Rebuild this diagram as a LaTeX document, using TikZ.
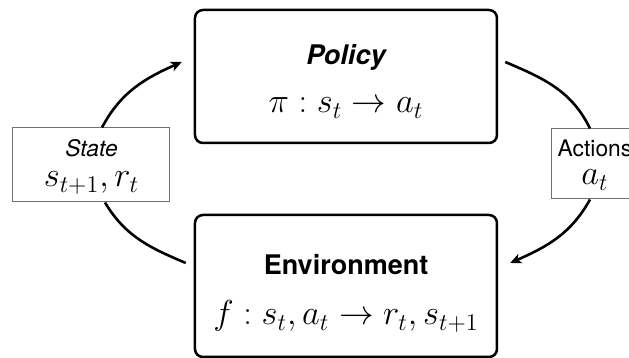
\documentclass[tikz,border=0pt]{standalone}
\usepackage{amsmath}
\usepackage{fontspec}
\newfontfamily\helv{TeX Gyre Heros}
\usetikzlibrary{arrows.meta,calc}
\definecolor{tagedge}{HTML}{707070}
\tikzset{
  agentbox/.style={draw=black, rounded corners=4pt, line width=1.25pt,
    minimum width=151pt, inner sep=0pt},
  tagbox/.style={draw=tagedge, line width=0.5pt, inner sep=0pt},
  boxhead/.style={font=\helv\bfseries\fontsize{13.5}{16}\selectfont, anchor=base, inner sep=0.5pt},
  boxmath/.style={font=\fontsize{17.5}{21}\selectfont, anchor=base, inner sep=0.5pt},
  taghead/.style={font=\helv\fontsize{11.4}{13}\selectfont, anchor=base, inner sep=0.5pt},
  tagmath/.style={font=\fontsize{16.5}{20}\selectfont, anchor=base, inner sep=0.5pt},
  loop/.style={line width=1.3pt, color=black},
  loopin/.style={loop, -{Stealth[length=5.5pt, width=5pt, inset=1.5pt]}},
}

\begin{document}
\begin{tikzpicture}[x=0.5pt,y=0.5pt]
  \useasboundingbox (0,0) rectangle (629,358);
  % the two main blocks
  \node[agentbox, minimum height=66.5pt] (policy) at (346,281.5) {};
  \node[agentbox, minimum height=71pt] (env) at (346,72) {};
  \node[boxhead, font=\helv\bfseries\itshape\fontsize{13.5}{16}\selectfont] (poltitle)
    at ([yshift=5.75pt]policy.center) {Policy};
  \node[boxmath] (polmap) at ([yshift=-18.25pt]policy.center) {$\pi : s_t \rightarrow a_t$};
  \node[boxhead] (envtitle) at ([yshift=5.5pt]env.center) {Environment};
  \node[boxmath, font=\fontsize{16.7}{20}\selectfont] (envmap)
    at ([yshift=-19.5pt]env.center) {$f : s_t, a_t \rightarrow r_t, s_{t+1}$};
  % tags on the loop
  \node[tagbox, minimum width=78.5pt, minimum height=37pt] (state) at (91.5,193) {};
  \node[taghead, font=\helv\itshape\fontsize{11.4}{13}\selectfont] (statetxt)
    at ([yshift=4pt]state.center) {State};
  \node[tagmath] (statemath) at ([yshift=-11pt]state.center) {$s_{t+1}, r_t$};
  \node[tagbox, minimum width=43pt, minimum height=35pt] (actions) at (595,194) {};
  \node[taghead] (actionstxt) at ([yshift=3.5pt]actions.center) {Actions};
  \node[tagmath] (actionsmath) at ([yshift=-10.5pt]actions.center) {$a_t$};
  % loop ends
  \coordinate (polin) at ([shift={(-12,14.5)}]policy.west);
  \coordinate (polout) at ([shift={(7,14.5)}]policy.east);
  \coordinate (envin) at ([shift={(12,23)}]env.east);
  \coordinate (envout) at ([shift={(-8,23)}]env.west);
  \draw[loopin] ([shift={(10.5,0)}]state.north) to[out=62, in=204] (polin);
  \draw[loop] (polout) to[out=-23, in=116] ([shift={(-5,0)}]actions.north);
  \draw[loopin] ([shift={(-5,0)}]actions.south) to[out=241, in=24] (envin);
  \draw[loop] (envout) to[out=157, in=-59] ([shift={(13.5,0)}]state.south);
\end{tikzpicture}
\end{document}
